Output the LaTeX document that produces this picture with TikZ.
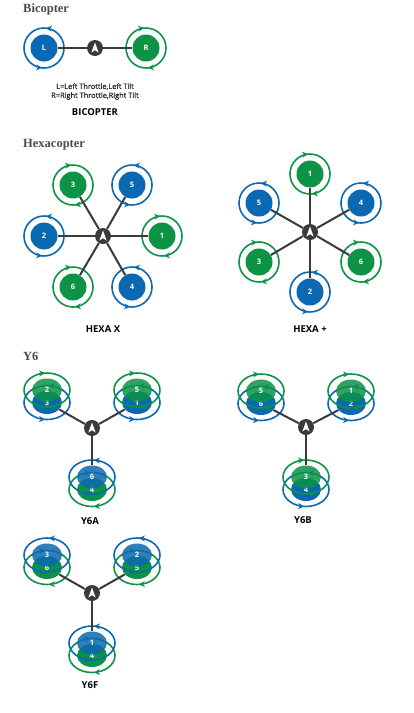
\documentclass[tikz,border=0pt]{standalone}
\usepackage{fontspec}
\setmainfont{Open Sans}
\newfontfamily\headfont{Liberation Serif}
\newfontfamily\notefont[RawFeature={embolden=0.7}]{Open Sans}
\usetikzlibrary{arrows.meta,shapes.geometric,decorations.markings}
\definecolor{copBlue}{HTML}{0B68B2}
\definecolor{copGreen}{HTML}{0C9346}
\definecolor{copDark}{HTML}{3B3A3A}
\definecolor{copHead}{HTML}{4A4A4A}
\tikzset{
  %% Motor discs
  discB/.style={circle, fill=copBlue, text=white, minimum size=27pt, inner sep=0pt,
    font=\fontsize{7.5}{9}\selectfont\bfseries},
  discG/.style={discB, fill=copGreen},
  %% Coaxial motor discs
  coaxB/.style={ellipse, fill=copBlue, text=white, minimum width=30pt, minimum height=23pt, inner sep=0pt,
    font=\fontsize{7.5}{9}\selectfont\bfseries},
  coaxG/.style={coaxB, fill=copGreen},
  coaxUpB/.style={coaxB, fill opacity=0.85, text opacity=1},
  coaxUpG/.style={coaxG, fill opacity=0.85, text opacity=1},
  %% Rotation rings
  markCCW/.style={postaction={decorate, decoration={markings,
    mark=at position 0.235 with {\arrow{Stealth[length=6pt,width=6pt]}},
    mark=at position 0.735 with {\arrow{Stealth[length=6pt,width=6pt]}}}}},
  markCW/.style={postaction={decorate, decoration={markings,
    mark=at position 0.265 with {\arrowreversed{Stealth[length=6pt,width=6pt]}},
    mark=at position 0.765 with {\arrowreversed{Stealth[length=6pt,width=6pt]}}}}},
  ringB/.style={circle, draw=copBlue, color=copBlue, line width=1.6pt, minimum size=40pt, inner sep=0pt, markCCW},
  ringG/.style={circle, draw=copGreen, color=copGreen, line width=1.6pt, minimum size=40pt, inner sep=0pt, markCW},
  coaxRingB/.style={ellipse, draw=copBlue, color=copBlue, line width=1.6pt, minimum width=46pt, minimum height=34pt, inner sep=0pt, markCCW},
  coaxRingG/.style={ellipse, draw=copGreen, color=copGreen, line width=1.6pt, minimum width=46pt, minimum height=34pt, inner sep=0pt, markCW},
  %% Frame
  armLine/.style={draw=copDark, line width=2pt},
  hubNode/.style={circle, fill=copDark, minimum size=16pt, inner sep=0pt,
    path picture={\fill[white] (path picture bounding box.center) ++(0,-5.5) -- ++(3.6,10) -- ++(-3.6,-2.4) -- ++(-3.6,2.4) -- cycle;}},
  %% Texts
  headText/.style={font=\headfont\fontsize{12.5}{14}\selectfont\bfseries, text=copHead, anchor=west, inner sep=0pt},
  nameText/.style={font=\fontsize{9.5}{11}\selectfont\bfseries, text=black, inner sep=0pt},
  noteText/.style={font=\notefont\fontsize{7.4}{9}\selectfont, text=black!85, align=center, inner sep=0pt},
}
\begin{document}
\begin{tikzpicture}[x=1pt, y=-1pt]
\useasboundingbox (0,0) rectangle (413,713);

%% Bicopter
\node[headText] (headBi) at (23,9) {Bicopter};
\node[ringB] (biRingL) at (44,48) {};
\node[ringG] (biRingR) at (146,48) {};
\node[discB] (biL) at (44,48) {L};
\node[discG] (biR) at (146,48) {R};
\node[hubNode] (biHub) at (95,48) {};
\draw[armLine] (biHub) -- (biL);
\draw[armLine] (biHub) -- (biR);
\node[noteText] (biNote) at (95,91.5) {L=Left Throttle,Left Tilt\\R=Right Throttle,Right Tilt};
\node[nameText] (biName) at (95,112) {BICOPTER};

%% Hexacopter
\node[headText] (headHex) at (23,145) {Hexacopter};
\node[hubNode] (hxHub) at (103,236) {};
\foreach \k/\x/\y/\c in {1/162/236/G, 2/44/236/B, 3/73/185/G, 4/132/287/B, 5/132/185/B, 6/73/287/G}{
  \node[ring\c] (hxRing\k) at (\x,\y) {};
  \node[disc\c] (hx\k) at (\x,\y) {\k};
  \draw[armLine] (hxHub) -- (hx\k);
}
\node[nameText] (hxName) at (103,329) {HEXA X};

\node[hubNode] (hpHub) at (310,232) {};
\foreach \k/\x/\y/\c in {1/310/174/G, 2/310/292/B, 3/259/262/G, 4/361/203/B, 5/259/203/B, 6/361/262/G}{
  \node[ring\c] (hpRing\k) at (\x,\y) {};
  \node[disc\c] (hp\k) at (\x,\y) {\k};
  \draw[armLine] (hpHub) -- (hp\k);
}
\node[nameText] (hpName) at (310,329) {HEXA +};

%% Y6
\node[headText] (headY) at (23,356) {Y6};
\node[hubNode] (yaHub) at (92,428) {};
\foreach \k/\lo/\up/\x/\y/\cl/\cu in {a/3/2/47/390/B/G, b/1/5/137/390/B/G, c/4/6/92/477/G/B}{
  \node[coaxRing\cl] (yaRingLo\k) at (\x,\y+12.5) {};
  \node[coax\cl] (yaLo\k) at (\x,\y+12.5) {\lo};
  \node[coaxUp\cu] (yaUp\k) at (\x,\y) {\up};
  \node[coaxRing\cu] (yaRingUp\k) at (\x,\y) {};
}
\draw[armLine] (yaHub) -- (yaLoa);
\draw[armLine] (yaHub) -- (yaLob);
\draw[armLine] (yaHub) -- (yaUpc);
\node[nameText] (yaName) at (90,521) {Y6A};

\node[hubNode] (ybHub) at (306,427) {};
\foreach \k/\lo/\up/\x/\y/\cl/\cu in {a/6/5/261/391/B/G, b/2/1/351/391/B/G, c/4/3/306/477/B/G}{
  \node[coaxRing\cl] (ybRingLo\k) at (\x,\y+12.5) {};
  \node[coax\cl] (ybLo\k) at (\x,\y+12.5) {\lo};
  \node[coaxUp\cu] (ybUp\k) at (\x,\y) {\up};
  \node[coaxRing\cu] (ybRingUp\k) at (\x,\y) {};
}
\draw[armLine] (ybHub) -- (ybLoa);
\draw[armLine] (ybHub) -- (ybLob);
\draw[armLine] (ybHub) -- (ybUpc);
\node[nameText] (ybName) at (303,520) {Y6B};

\node[hubNode] (yfHub) at (92,593) {};
\foreach \k/\lo/\up/\x/\y/\cl/\cu in {a/6/3/47/555/G/B, b/5/2/137/555/G/B, c/4/1/92/643/G/B}{
  \node[coaxRing\cl] (yfRingLo\k) at (\x,\y+12.5) {};
  \node[coax\cl] (yfLo\k) at (\x,\y+12.5) {\lo};
  \node[coaxUp\cu] (yfUp\k) at (\x,\y) {\up};
  \node[coaxRing\cu] (yfRingUp\k) at (\x,\y) {};
}
\draw[armLine] (yfHub) -- (yfLoa);
\draw[armLine] (yfHub) -- (yfLob);
\draw[armLine] (yfHub) -- (yfUpc);
\node[nameText] (yfName) at (90,685) {Y6F};

\end{tikzpicture}
\end{document}
